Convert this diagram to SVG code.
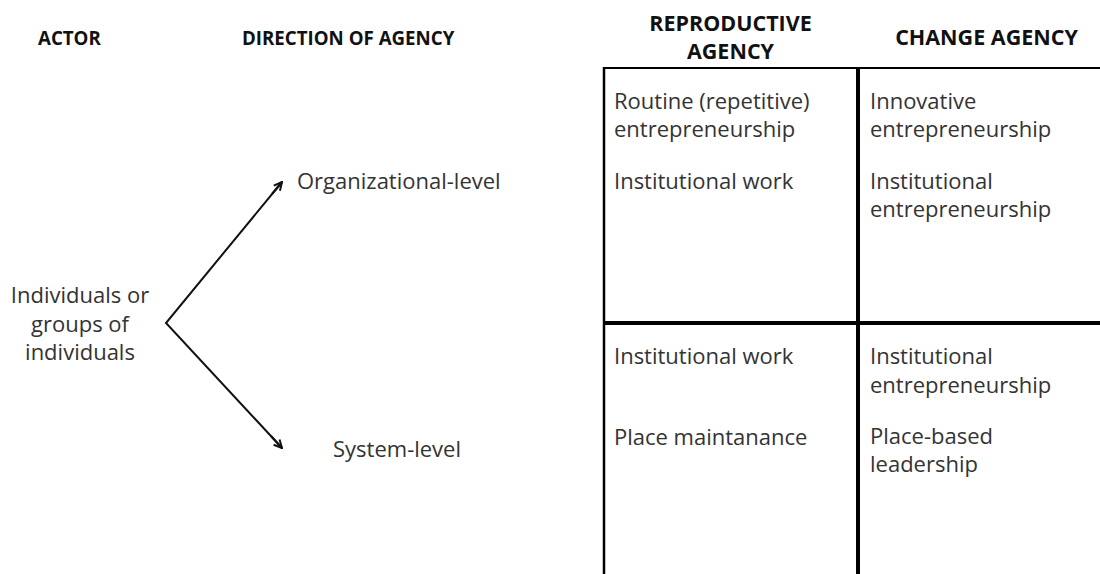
<svg xmlns="http://www.w3.org/2000/svg" width="1100" height="574" viewBox="0 0 1100 574">
<defs>
<marker id="arr" viewBox="0 0 10 10" refX="9" refY="5" markerWidth="10" markerHeight="10" markerUnits="userSpaceOnUse" orient="auto">
<path d="M1,1 L9,5 L1,9" fill="none" stroke="#111" stroke-width="2"/>
</marker>
<style>
.h{font-family:"Open Sans","Liberation Sans",sans-serif;font-weight:700;font-size:18.7px;fill:#111}
.hr{font-size:21.5px}
.t{font-family:"Open Sans","Liberation Sans",sans-serif;font-size:22px;fill:#333}
.g{stroke:#000;fill:none}
</style>
</defs>
<rect width="1100" height="574" fill="#fff"/>
<g id="headers">
<text class="h" x="38" y="45">ACTOR</text>
<text class="h" x="242" y="45">DIRECTION OF AGENCY</text>
<text class="h hr" x="730.5" y="31" text-anchor="middle">REPRODUCTIVE</text>
<text class="h hr" x="730.5" y="59" text-anchor="middle">AGENCY</text>
<text class="h hr" x="986.5" y="45" text-anchor="middle">CHANGE AGENCY</text>
</g>
<g id="grid">
<line class="g" x1="603" y1="68" x2="1100" y2="68" stroke-width="2"/>
<line class="g" x1="604" y1="67" x2="604" y2="574" stroke-width="2.5"/>
<line class="g" x1="858" y1="68" x2="858" y2="574" stroke-width="4"/>
<line class="g" x1="604" y1="323" x2="1100" y2="323" stroke-width="4"/>
</g>
<g id="actor">
<text class="t" x="80" y="303" text-anchor="middle">Individuals or</text>
<text class="t" x="80" y="332" text-anchor="middle">groups of</text>
<text class="t" x="80" y="360" text-anchor="middle">individuals</text>
</g>
<g id="org-level"><text class="t" x="297" y="189">Organizational-level</text></g>
<g id="system-level"><text class="t" x="333" y="457">System-level</text></g>
<g id="connectors">
<polyline points="282,182 166,323 282,448" fill="none" stroke="#111" stroke-width="2" stroke-linejoin="miter"/>
<line x1="272" y1="194" x2="282" y2="182" stroke="#111" stroke-width="2" marker-end="url(#arr)"/>
<line x1="271" y1="436" x2="282" y2="448" stroke="#111" stroke-width="2" marker-end="url(#arr)"/>
</g>
<g id="cell-rep-org">
<text class="t" x="614" y="109">Routine (repetitive)</text>
<text class="t" x="614" y="137">entrepreneurship</text>
<text class="t" x="614" y="189">Institutional work</text>
</g>
<g id="cell-chg-org">
<text class="t" x="870" y="109">Innovative</text>
<text class="t" x="870" y="137">entrepreneurship</text>
<text class="t" x="870" y="189">Institutional</text>
<text class="t" x="870" y="217">entrepreneurship</text>
</g>
<g id="cell-rep-sys">
<text class="t" x="614" y="364">Institutional work</text>
<text class="t" x="614" y="445">Place maintanance</text>
</g>
<g id="cell-chg-sys">
<text class="t" x="870" y="364">Institutional</text>
<text class="t" x="870" y="393">entrepreneurship</text>
<text class="t" x="870" y="444">Place-based</text>
<text class="t" x="870" y="472">leadership</text>
</g>
</svg>
